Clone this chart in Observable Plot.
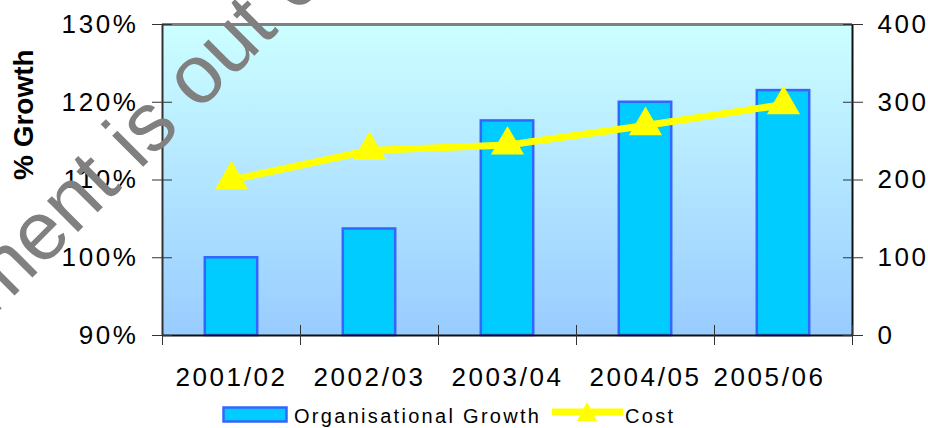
<!DOCTYPE html>
<html><head><meta charset="utf-8">
<script src="https://cdn.jsdelivr.net/npm/d3@7"></script>
<script src="https://cdn.jsdelivr.net/npm/@observablehq/plot@0.6"></script>
<style>
html,body{margin:0;padding:0;background:#fff;}
#page{position:relative;width:928px;height:428px;overflow:hidden;font-family:"Liberation Sans",Arial,sans-serif;}
#chart{position:absolute;left:0;top:0;}
#chart svg text{letter-spacing:2.6px;}
#chart svg g[aria-label="text"] text{letter-spacing:0;}
#legend{position:absolute;left:0;top:395px;}
#legend text{letter-spacing:2.3px;}
#wm{position:absolute;left:0;top:0;pointer-events:none;}
</style></head>
<body><div id="page"><div id="chart"></div><svg id="legend" width="928" height="33"></svg><svg id="wm" width="928" height="428"></svg></div>
<script>
const categories = ["2001/02", "2002/03", "2003/04", "2004/05", "2005/06"];
const growth = [100, 103.7, 117.6, 120.0, 121.5];
const cost = [200, 238, 245, 270, 297];
const growthTicks = [90, 100, 110, 120, 130];
const costTicks = [0, 100, 200, 300, 400];
const seriesNames = ["Organisational Growth", "Cost"];
const watermark = "This document is out of date";

const rows = categories.map((c, i) => ({category: c, i, growth: growth[i], cost: cost[i]}));
const costToY = c => 90 + c / 10;
const yToCost = y => Math.round((y - 90) * 10);
const last = categories.length - 1;

const gradientDefs = () => {
  const ns = "http://www.w3.org/2000/svg";
  const defs = document.createElementNS(ns, "defs");
  const lg = document.createElementNS(ns, "linearGradient");
  lg.setAttribute("id", "bgGrad");
  lg.setAttribute("x1", "0"); lg.setAttribute("y1", "0");
  lg.setAttribute("x2", "0"); lg.setAttribute("y2", "1");
  [["0", "#CCFFFF"], ["1", "#99CCFF"]].forEach(([o, c]) => {
    const s = document.createElementNS(ns, "stop");
    s.setAttribute("offset", o); s.setAttribute("stop-color", c);
    lg.appendChild(s);
  });
  defs.appendChild(lg);
  return defs;
};

const chart = Plot.plot({
  width: 928,
  height: 395,
  marginLeft: 162,
  marginRight: 76,
  marginTop: 24,
  marginBottom: 60,
  style: {fontSize: "26px", fontFamily: "'Liberation Sans', Arial, sans-serif", color: "#000", background: "transparent", overflow: "visible"},
  x: {type: "linear", domain: [0, categories.length], axis: null},
  y: {domain: [90, 130], axis: null},
  marks: [
    gradientDefs,
    Plot.frame({fill: "url(#bgGrad)", stroke: "none"}),
    Plot.ruleY([130], {stroke: "#808080", strokeWidth: 3}),
    Plot.rectY(rows, {x1: d => d.i + 0.31, x2: d => d.i + 0.69, y1: 90, y2: "growth", fill: "#00CCFF", stroke: "#3366FF", strokeWidth: 2.5}),
    Plot.line(rows, {x: d => d.i + 0.5, y: d => costToY(d.cost), stroke: "#FFFF00", strokeWidth: 7}),
    Plot.dot(rows, {x: d => d.i + 0.5, y: d => costToY(d.cost), symbol: "triangle", r: 12.3, fill: "#FFFF00", stroke: "none"}),
    Plot.ruleX([0], {stroke: "#333", strokeWidth: 2}),
    Plot.ruleX([categories.length], {stroke: "#111", strokeWidth: 2}),
    Plot.ruleY([90], {stroke: "#111", strokeWidth: 2}),
    Plot.axisY(growthTicks, {anchor: "left", tickSize: 20, dx: 10, tickPadding: 14, tickFormat: d => d + "%", label: null, stroke: "#333"}),
    Plot.axisY(costTicks.map(costToY), {anchor: "right", tickSize: 20, dx: -10, tickPadding: 15, tickFormat: v => String(yToCost(v)), label: null, stroke: "#333"}),
    Plot.axisX(d3.range(categories.length + 1), {anchor: "bottom", tickSize: 20, dy: -10, tickFormat: () => "", label: null, stroke: "#333"}),
    Plot.axisX(rows.filter(d => d.i < last).map(d => d.i + 0.5), {anchor: "bottom", tickSize: 0, tickPadding: 32, tickFormat: v => categories[Math.floor(v)], label: null}),
    Plot.axisX(rows.filter(d => d.i === last).map(d => d.i + 0.5), {anchor: "bottom", tickSize: 0, tickPadding: 32, dx: -14, tickFormat: v => categories[Math.floor(v)], label: null}),
    Plot.text(["% Growth"], {frameAnchor: "left", rotate: -90, dx: -138, text: d => d, fontWeight: "bold", fontSize: 28, fontFamily: "'Liberation Sans', Arial, sans-serif", fill: "#000"})
  ]
});
document.getElementById("chart").appendChild(chart);

// Legend
const ns = "http://www.w3.org/2000/svg";
const leg = document.getElementById("legend");
function el(parent, tag, attrs, text) {
  const e = document.createElementNS(ns, tag);
  for (const k in attrs) e.setAttribute(k, attrs[k]);
  if (text != null) e.textContent = text;
  parent.appendChild(e);
  return e;
}
el(leg, "rect", {x: 223.5, y: 12.5, width: 63, height: 14, fill: "#00CCFF", stroke: "#3366FF", "stroke-width": 2.5});
el(leg, "text", {x: 294, y: 27.5, "font-size": 20, "font-family": "'Liberation Sans', Arial, sans-serif", fill: "#000"}, seriesNames[0]);
el(leg, "line", {x1: 552, x2: 623, y1: 17, y2: 17, stroke: "#FFFF00", "stroke-width": 7});
el(leg, "path", {d: "M587,7 L597,26 L577,26 Z", fill: "#FFFF00"});
el(leg, "text", {x: 625, y: 27.5, "font-size": 20, "font-family": "'Liberation Sans', Arial, sans-serif", fill: "#000"}, seriesNames[1]);

// Watermark overlay
const wm = document.getElementById("wm");
el(wm, "text", {x: -262, y: 572, transform: "rotate(-45 -262 572)", "font-size": 83,
  "font-family": "'Liberation Sans', Arial, sans-serif", fill: "#808080"}, watermark);
</script>
</body></html>
